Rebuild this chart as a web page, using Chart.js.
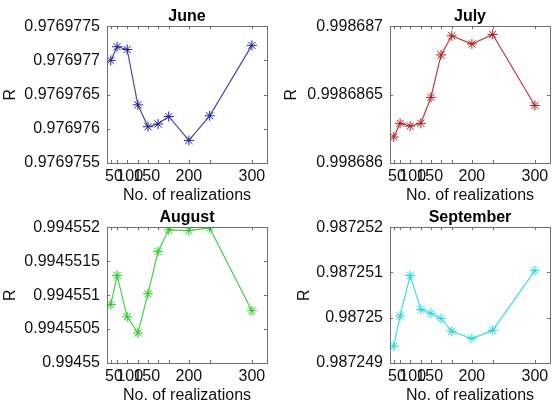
<!DOCTYPE html>
<html>
<head>
<meta charset="utf-8">
<script src="https://cdn.jsdelivr.net/npm/chart.js@4.4.0/dist/chart.umd.min.js"></script>
<style>
  html, body { margin: 0; padding: 0; background: #fff; }
  #wrap { position: relative; width: 557px; height: 405px; overflow: hidden; }
  canvas { position: absolute; }
</style>
</head>
<body>
<div id="wrap">
  <canvas id="june" width="278" height="205" style="left:0;top:0"></canvas>
  <canvas id="july" width="279" height="205" style="left:278px;top:0"></canvas>
  <canvas id="august" width="278" height="205" style="left:0;top:200px"></canvas>
  <canvas id="september" width="279" height="205" style="left:278px;top:200px"></canvas>
</div>
<script>
// x positions of the runs and the tick labels as they sit under the axis
const realizations = [76, 86, 102, 119, 135, 151, 168, 200, 233, 300];
const xTickPos = [81, 106, 133, 200, 300];
const xTickLabels = ['50', '100', '150', '200', '300'];

const juneR = [0.9769770, 0.9769772, 0.97697716, 0.97697635, 0.97697603, 0.97697607, 0.97697618, 0.97697583, 0.97697619, 0.97697722];
const juneTicks = [0.9769755, 0.976976, 0.9769765, 0.976977, 0.9769775];

const julyR = [0.99868619, 0.99868629, 0.99868627, 0.99868629, 0.99868648, 0.99868679, 0.99868693, 0.99868687, 0.99868694, 0.99868642];
const julyTicks = [0.998686, 0.9986865, 0.998687];

const augustR = [0.99455086, 0.99455129, 0.99455068, 0.99455044, 0.99455102, 0.99455164, 0.99455196, 0.99455195, 0.99455199, 0.99455077];
const augustTicks = [0.99455, 0.9945505, 0.994551, 0.9945515, 0.994552];

const septemberR = [0.98724937, 0.98725004, 0.98725093, 0.98725018, 0.9872501, 0.98724998, 0.9872497, 0.98724954, 0.98724972, 0.98725104];
const septemberTicks = [0.987249, 0.98725, 0.987251, 0.987252];

const FONT = "'Liberation Sans', Arial, sans-serif";

// axes box and small inward tick marks, like the original figure
const boxPlugin = {
  id: 'box',
  afterDraw(chart) {
    const { ctx, chartArea: a, scales } = chart;
    ctx.save();
    ctx.strokeStyle = '#707070';
    ctx.lineWidth = 1;
    ctx.beginPath();
    realizations.forEach(v => {
      const x = Math.round(scales.x.getPixelForValue(v)) + 0.5;
      ctx.moveTo(x, a.bottom); ctx.lineTo(x, a.bottom - 3);
      ctx.moveTo(x, a.top); ctx.lineTo(x, a.top + 3);
    });
    chart.options.yTickValues.forEach(v => {
      const y = Math.round(scales.y.getPixelForValue(v)) + 0.5;
      ctx.moveTo(a.left, y); ctx.lineTo(a.left + 3, y);
      ctx.moveTo(a.right, y); ctx.lineTo(a.right - 3, y);
    });
    ctx.stroke();
    ctx.strokeRect(Math.round(a.left) + 0.5, Math.round(a.top) + 0.5,
      Math.round(a.right - a.left), Math.round(a.bottom - a.top));
    ctx.restore();
  }
};

function makeChart(id, title, values, yTicks, color, markColor, opt) {
  return new Chart(document.getElementById(id), {
    type: 'line',
    data: {
      datasets: [{
        data: realizations.map((x, i) => ({ x: x, y: values[i] })),
        borderColor: color,
        borderWidth: 1.2,
        pointStyle: 'star',
        pointRadius: 5,
        pointBorderColor: markColor,
        pointBorderWidth: 1,
        pointBackgroundColor: markColor,
        tension: 0
      }]
    },
    options: {
      responsive: false,
      animation: false,
      yTickValues: yTicks,
      layout: { padding: { left: 0, right: opt.padRight, top: 0, bottom: 0 } },
      plugins: {
        legend: { display: false },
        tooltip: { enabled: false },
        title: {
          display: true,
          fullSize: false,
          text: title,
          color: '#000',
          font: { family: FONT, size: 16, weight: 'bold' },
          padding: { top: opt.titleTop, bottom: opt.titleBottom }
        }
      },
      scales: {
        x: {
          type: 'linear',
          min: 70,
          max: 324,
          grid: { display: false, drawTicks: false },
          border: { display: false },
          afterBuildTicks: s => { s.ticks = xTickPos.map(v => ({ value: v })); },
          afterFit: s => { s.height = 42; s.paddingLeft = 0; s.paddingRight = 0; },
          ticks: {
            autoSkip: false,
            maxRotation: 0,
            minRotation: 0,
            padding: 4,
            color: '#111',
            font: { family: FONT, size: 16 },
            callback: (v, i) => xTickLabels[i]
          },
          title: {
            display: true,
            text: 'No. of realizations',
            color: '#111',
            font: { family: FONT, size: 16 },
            padding: { top: 0, bottom: 0 }
          }
        },
        y: {
          min: yTicks[0],
          max: yTicks[yTicks.length - 1],
          grid: { display: false, drawTicks: false },
          border: { display: false },
          afterBuildTicks: s => { s.ticks = yTicks.map(v => ({ value: v })); },
          afterFit: s => { s.width = opt.yWidth; },
          ticks: {
            padding: 7,
            color: '#111',
            font: { family: FONT, size: 16 },
            callback: (v, i) => String(yTicks[i])
          },
          title: {
            display: true,
            text: 'R',
            color: '#111',
            font: { family: FONT, size: 16 },
            padding: { top: opt.rPad, bottom: 0 }
          }
        }
      }
    },
    plugins: [boxPlugin]
  });
}

makeChart('june', 'June', juneR, juneTicks, '#4848b0', '#20209a',
  { padRight: 11, yWidth: 107, titleTop: 7, titleBottom: 0, rPad: 1 });
makeChart('july', 'July', julyR, julyTicks, '#c03a3a', '#b01e1e',
  { padRight: 7, yWidth: 112, titleTop: 7, titleBottom: 0, rPad: 4 });
makeChart('august', 'August', augustR, augustTicks, '#44d244', '#22cc22',
  { padRight: 11, yWidth: 107, titleTop: 8, titleBottom: 0, rPad: 1 });
makeChart('september', 'September', septemberR, septemberTicks, '#40dede', '#22d8d8',
  { padRight: 7, yWidth: 112, titleTop: 8, titleBottom: 0, rPad: 17 });
</script>
</body>
</html>
